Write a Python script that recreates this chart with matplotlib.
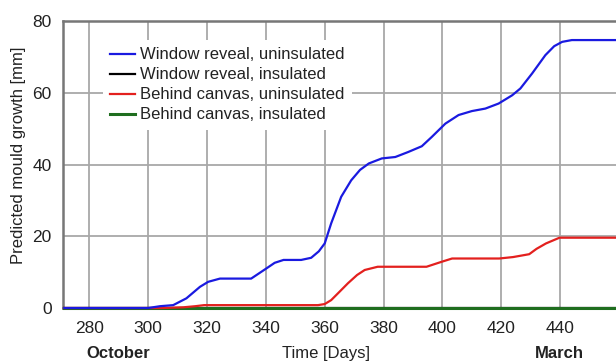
import matplotlib
matplotlib.use("Agg")
import matplotlib.pyplot as plt
from matplotlib import transforms

plt.rcParams['font.family'] = ['Liberation Sans', 'DejaVu Sans']

# Data
blue_days = [271.5, 300, 304, 308.5, 313, 317.6, 320.4, 324.4, 335, 340.3, 343, 346, 352,
             355.4, 358, 360, 362.2, 365.6, 369, 372, 375, 379.4, 384, 388.4, 393, 396.4,
             401, 405.5, 410, 414.6, 419.1, 423.7, 426.5, 430.5, 435, 438, 440.7, 444, 459]
blue_vals = [0, 0, 0.5, 0.8, 2.7, 5.9, 7.3, 8.2, 8.2, 11.1, 12.6, 13.4, 13.4,
             14.0, 15.8, 18.0, 23.6, 31.0, 35.6, 38.5, 40.3, 41.7, 42.1, 43.5, 45.1, 47.7,
             51.4, 53.8, 54.9, 55.6, 57.0, 59.3, 61.2, 65.4, 70.5, 73.0, 74.2, 74.7, 74.7]

red_days = [271.5, 305, 312, 316, 319, 357.7, 360, 362.2, 365, 367.9, 371, 373.6, 378,
            394.6, 399.8, 403.3, 419.3, 424, 429.5, 432, 435.2, 439.8, 459]
red_vals = [0, 0, 0.2, 0.5, 0.8, 0.8, 1.1, 2.2, 4.5, 6.9, 9.2, 10.6, 11.5,
            11.5, 12.9, 13.8, 13.8, 14.2, 15.0, 16.5, 18.0, 19.6, 19.6]

flat_days = [271.5, 459]
black_vals = [0, 0]
green_vals = [0, 0]

labels = ["Window reveal, uninsulated", "Window reveal, insulated",
          "Behind canvas, uninsulated", "Behind canvas, insulated"]
x_ticks = [280, 300, 320, 340, 360, 380, 400, 420, 440]
y_ticks = [0, 20, 40, 60, 80]
month_labels = ["October", "March"]
month_pos = [289.7, 439.6]

fig = plt.figure(figsize=(6.16, 3.63), dpi=100)
ax = fig.add_axes([0.102, 0.1515, 0.898, 0.7905])

lk, = ax.plot(flat_days, black_vals, color="black", lw=1.6, clip_on=False, zorder=3)
lg, = ax.plot(flat_days, green_vals, color="#1f6e1f", lw=2.2, clip_on=False, zorder=4)
lr, = ax.plot(red_days, red_vals, color="#e3201e", lw=1.6, clip_on=False, zorder=5)
lb, = ax.plot(blue_days, blue_vals, color="#1a1ae0", lw=1.6, clip_on=False, zorder=6)

ax.set_xlim(271, 459)
ax.set_ylim(0, 80)
ax.set_xticks(x_ticks)
ax.set_yticks(y_ticks)
ax.tick_params(length=0, labelsize=12.5, colors="#222222", pad=8)
ax.tick_params(axis='x', pad=9)
ax.grid(True, color="#a8a8a8", lw=1.3)
ax.set_axisbelow(True)
for s in ["left", "top", "bottom"]:
    ax.spines[s].set_color("#777777")
    ax.spines[s].set_linewidth(1.8)
ax.spines["right"].set_visible(False)

ax.set_ylabel("Predicted mould growth [mm]", fontsize=12, color="#222222")
ax.yaxis.set_label_coords(-0.066, 0.533)

trans = transforms.blended_transform_factory(ax.transData, ax.transAxes)
ax.text(360.3, -0.158, "Time [Days]", transform=trans, ha="center", va="center",
        fontsize=12, color="#222222")
for m, p in zip(month_labels, month_pos):
    ax.text(p, -0.158, m, transform=trans, ha="center", va="center",
            fontsize=12, fontweight="bold", color="#222222")

leg = ax.legend([lb, lk, lr, lg], labels, loc="upper left",
                bbox_to_anchor=(0.0724, 0.934), borderaxespad=0, frameon=True, fontsize=12,
                handlelength=1.5, handletextpad=0.3, labelspacing=0.3,
                borderpad=0.45, fancybox=False)
leg.get_frame().set_edgecolor("none")
leg.get_frame().set_facecolor("white")
leg.get_frame().set_alpha(1)
for t in leg.get_texts():
    t.set_color("#222222")

fig.savefig("out.png", dpi=100)
